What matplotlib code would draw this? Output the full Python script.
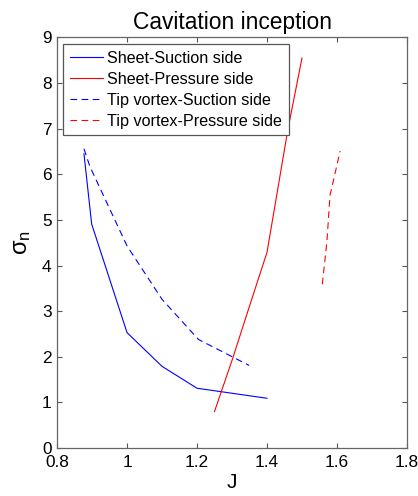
import matplotlib
matplotlib.use("Agg")
import matplotlib.pyplot as plt

plt.rcParams['font.family'] = ['Liberation Sans', 'DejaVu Sans']
plt.rcParams['mathtext.fontset'] = 'custom'
plt.rcParams['mathtext.rm'] = 'Liberation Sans'
plt.rcParams['mathtext.it'] = 'Liberation Sans'

# sheet cavitation, suction side
J_sheet_ss = [0.877, 0.899, 1.0, 1.1, 1.2, 1.4]
sig_sheet_ss = [6.45, 4.91, 2.53, 1.79, 1.31, 1.09]

# sheet cavitation, pressure side
J_sheet_ps = [1.25, 1.3, 1.347, 1.4, 1.46, 1.5]
sig_sheet_ps = [0.8, 1.92, 3.04, 4.29, 7.0, 8.55]

# tip vortex, suction side
J_tip_ss = [0.877, 0.894, 1.0, 1.1, 1.204, 1.349]
sig_tip_ss = [6.56, 6.17, 4.43, 3.26, 2.38, 1.81]

# tip vortex, pressure side
J_tip_ps = [1.558, 1.571, 1.58, 1.609]
sig_tip_ps = [3.59, 4.51, 5.54, 6.51]

xticks = [0.8, 1.0, 1.2, 1.4, 1.6, 1.8]
xticklabels = ['0.8', '1', '1.2', '1.4', '1.6', '1.8']
yticks = list(range(0, 10))

fig = plt.figure(figsize=(4.18, 4.96), dpi=100)
ax = fig.add_axes([0.1364, 0.0968, 0.8373, 0.8276])

ax.plot(J_sheet_ss, sig_sheet_ss, color='b', linestyle='-', linewidth=0.8, label='Sheet-Suction side')
ax.plot(J_sheet_ps, sig_sheet_ps, color='r', linestyle='-', linewidth=0.8, label='Sheet-Pressure side')
ax.plot(J_tip_ss, sig_tip_ss, color='b', linestyle=(0, (6, 4)), linewidth=0.8, label='Tip vortex-Suction side')
ax.plot(J_tip_ps, sig_tip_ps, color='r', linestyle=(0, (6, 4)), linewidth=0.8, label='Tip vortex-Pressure side')

ax.set_xlim(0.8, 1.8)
ax.set_ylim(0, 9)
ax.set_xticks(xticks)
ax.set_xticklabels(xticklabels)
ax.set_yticks(yticks)
ax.tick_params(direction='in', length=3.5, width=0.8, color='#555555',
               top=True, right=True, labelsize=12.4)
ax.tick_params(axis='x', pad=5)
ax.tick_params(axis='y', pad=4)
for s in ax.spines.values():
    s.set_color('#666666')
    s.set_linewidth(0.9)

ax.set_title('Cavitation inception', fontsize=16.4, pad=6)
ax.set_xlabel('J', fontsize=15, labelpad=2)
ax.set_ylabel(r'$\sigma_{n}$', fontsize=17, labelpad=6)

leg = ax.legend(loc='upper left', fontsize=11.6, handlelength=2.05, labelspacing=0.37,
                borderaxespad=0.4, borderpad=0.42, handletextpad=0.25, fancybox=False,
                framealpha=1, edgecolor='#555555')
leg.get_frame().set_linewidth(0.9)

fig.savefig('out.png', dpi=100)
